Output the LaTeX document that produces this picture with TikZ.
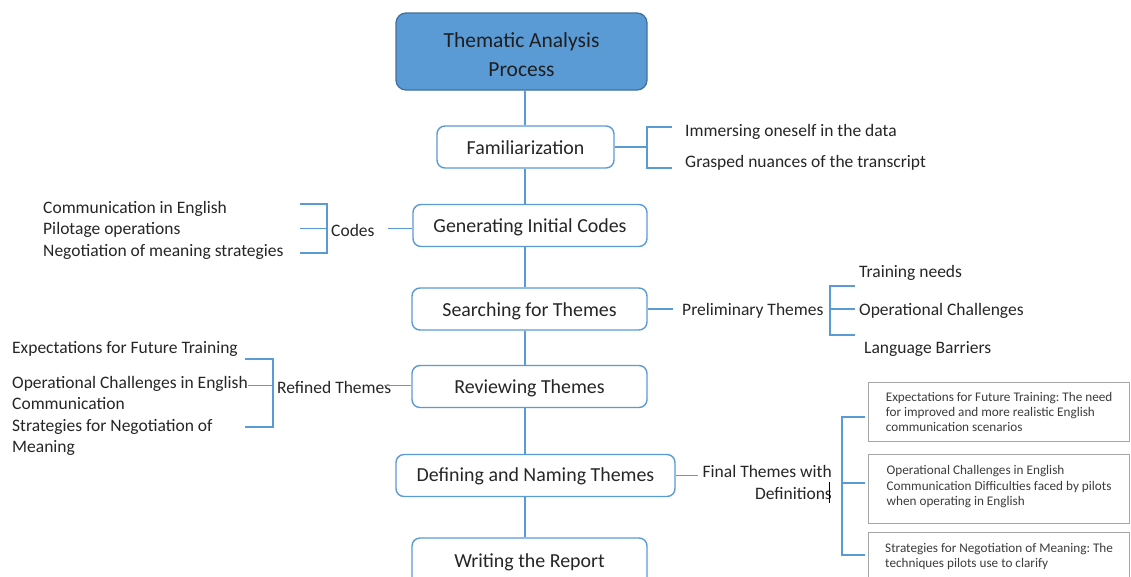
\documentclass[tikz,border=0pt]{standalone}
\usepackage{fontspec}
\setmainfont{Carlito}
\frenchspacing
\newcommand\lowerby[2]{\raisebox{-#1}[\height][\depth]{#2}}
\definecolor{lblue}{HTML}{5B9BD5}
\definecolor{dblue}{HTML}{41719C}
\definecolor{tgray}{HTML}{262626}
\definecolor{bgray}{HTML}{A6A6A6}
\tikzset{
  conn/.style={draw=lblue, line width=1.3pt},
  stepbox/.style={draw=lblue, line width=1.4pt, rounded corners=8pt, fill=white,
    minimum height=42pt, inner sep=0pt, text=tgray, font=\fontsize{19.9}{22}\selectfont},
  titlebox/.style={draw=dblue, line width=1.3pt, rounded corners=10pt, fill=lblue,
    minimum width=251pt, minimum height=77pt, inner sep=0pt, align=center,
    text=black!88, font=\fontsize{21.5}{29}\selectfont},
  side/.style={inner sep=0pt, text=tgray, font=\fontsize{17.5}{21.5}\selectfont},
  defbox/.style={draw=bgray, line width=1.2pt, fill=white, minimum width=261pt,
    inner xsep=0pt, inner ysep=0pt, align=left, anchor=north west,
    text=tgray!90, font=\fontsize{13.2}{15.3}\selectfont}
}
\begin{document}
\begin{tikzpicture}[x=1pt,y=-1pt]
\useasboundingbox (0,0) rectangle (1131,576);
\fill[white] (0,0) rectangle (1131,576);
\coordinate (tx) at (525,0);

% main steps
\node[titlebox] (title) at (521.5,51.5) {\lowerby{3pt}{Thematic Analysis}\\\lowerby{3pt}{Process}};
\node[stepbox, minimum width=177pt] (fam) at (525.5,147) {\lowerby{1pt}{Familiarization}};
\node[stepbox, minimum width=234pt] (gen) at (530,225.5) {\lowerby{2pt}{Generating Initial Codes}};
\node[stepbox, minimum width=235pt] (sea) at (529.5,309) {\lowerby{2pt}{Searching for Themes}};
\node[stepbox, minimum width=235pt] (rev) at (529.5,386.5) {\lowerby{1.5pt}{Reviewing Themes}};
\node[stepbox, minimum width=279pt] (def) at (535.5,475.5) {\lowerby{1pt}{Defining and Naming Themes}};
\node[stepbox, minimum width=235pt, minimum height=48pt] (wri) at (529.5,562) {\lowerby{0.5pt}{Writing the Report}};

% trunk
\draw[conn] (title.south -| tx) -- (fam.north -| tx);
\draw[conn] (fam.south -| tx) -- (gen.north -| tx);
\draw[conn] (gen.south -| tx) -- (sea.north -| tx);
\draw[conn] (sea.south -| tx) -- (rev.north -| tx);
\draw[conn] (rev.south -| tx) -- (def.north -| tx);
\draw[conn] (def.south -| tx) -- (wri.north -| tx);

% Familiarization branch
\node[side, anchor=west] (imm) at (685,131.5) {Immersing oneself in the data};
\node[side, anchor=west] (gra) at (685,162.5) {Grasped nuances of the transcript};
\coordinate (fb) at (647,147);
\draw[conn] (fam.east) -- (fb);
\draw[conn] (672,127) -- (647,127) -- (647,168) -- (672,168);

% Codes branch
\node[side, anchor=west] (c1) at (43,208.5) {Communication in English};
\node[side, anchor=west] (c2) at (43,230) {Pilotage operations};
\node[side, anchor=west] (c3) at (43,251.5) {Negotiation of meaning strategies};
\node[side, anchor=west] (codes) at (331,230) {Codes};
\coordinate (cg) at (388,228.5);
\draw[conn] (cg) -- (gen.west |- cg);
\draw[conn] (300,204) -- (327,204) -- (327,253) -- (300,253);
\draw[conn] (300,228.5) -- (327,228.5);

% Preliminary themes
\node[side, anchor=west] (pre) at (682,310.5) {Preliminary Themes};
\coordinate (ps) at (673,309);
\draw[conn] (sea.east) -- (ps);
\node[side, anchor=west] (p1) at (859,272.5) {Training needs};
\node[side, anchor=west] (p2) at (859,310.5) {Operational Challenges};
\node[side, anchor=west] (p3) at (864,348.5) {Language Barriers};
\draw[conn] (855,286) -- (830,286) -- (830,335) -- (855,335);
\draw[conn] (830,309) -- (855,309);

% Refined themes
\node[side, anchor=west] (r1) at (12,348.5) {Expectations for Future Training};
\node[side, anchor=north west, align=left] (r2) at (12,376) {Operational Challenges in English\\Communication};
\node[side, anchor=north west, align=left] (r3) at (12,419) {Strategies for Negotiation of\\Meaning};
\node[side, anchor=west] (ref) at (277,387) {Refined Themes};
\coordinate (rr) at (384,385.5);
\draw[conn] (rr) -- (rev.west |- rr);
\draw[conn] (245,359) -- (273,359) -- (273,427) -- (245,427);
\draw[conn] (248,385.5) -- (273,385.5);

% Final themes
\node[side, anchor=east, align=right] (fin) at (832,482.5) {Final Themes with\\Definitions};
\draw[line width=0.9pt, black] (829.5,482) -- (829.5,503);
\coordinate (fs) at (698,475.5);
\draw[conn] (def.east) -- (fs);
\draw[conn] (865,417) -- (842,417) -- (842,555) -- (865,555);
\draw[conn] (842,483) -- (865,483);

\node[defbox, minimum height=59pt] (d1) at (868,382) {Expectations for Future Training: The need\\for improved and more realistic English\\communication scenarios};
\node[defbox, minimum height=69pt] (d2) at (868,454) {Operational Challenges in English\\Communication Difficulties faced by pilots\\when operating in English\\[-8pt]\mbox{}};
\node[defbox, minimum height=48pt] (d3) at (868,532) {Strategies for Negotiation of Meaning: The\\techniques pilots use to clarify};
\end{tikzpicture}
\end{document}
